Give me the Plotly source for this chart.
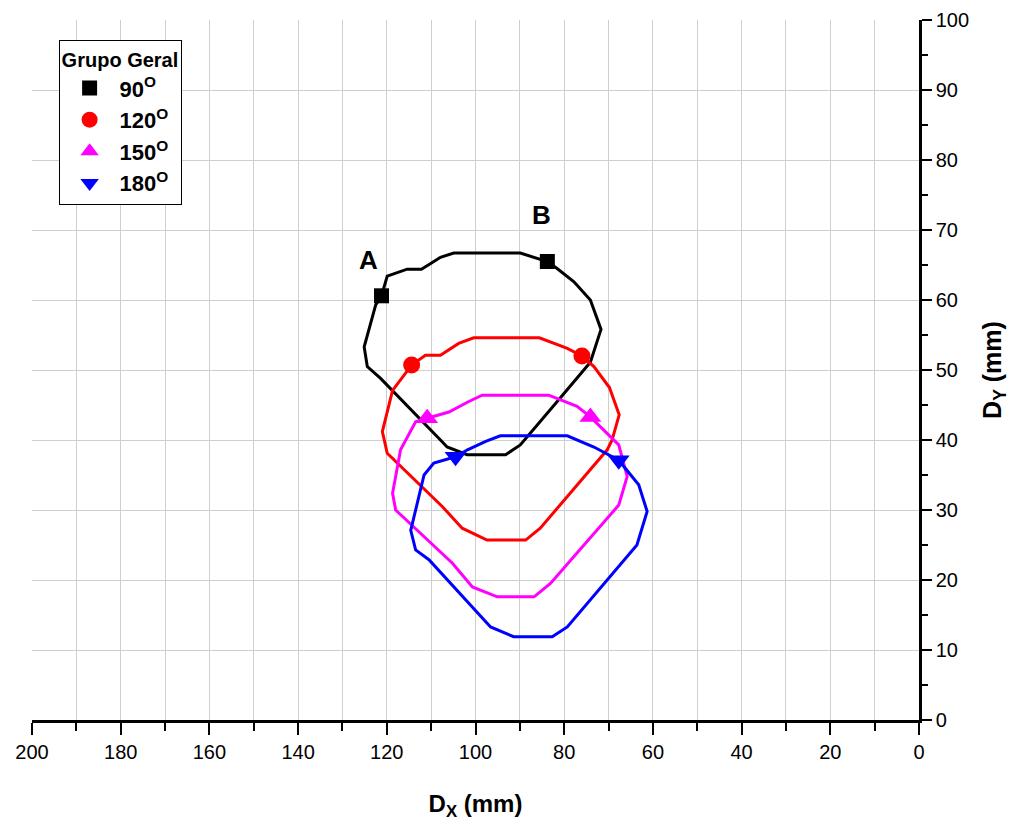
import plotly.graph_objects as go

# 90 degrees path
x90 = [121.2, 119.9, 115.4, 112.2, 110.1, 107.9, 104.9, 89.9, 83.8, 81.6, 77.8, 74.1, 71.7, 74.1,
       80.9, 89.9, 93.2, 101.9, 106.4, 107.9, 121.4, 124.4, 125.1, 122.5, 121.2]
y90 = [60.6, 63.4, 64.4, 64.4, 65.2, 66.1, 66.7, 66.7, 65.5, 64.5, 62.6, 60.0, 55.8, 51.1,
       46.0, 39.3, 37.9, 37.9, 39.0, 40.0, 48.8, 50.5, 53.3, 59.3, 60.6]
mx90 = [121.2, 83.8]
my90 = [60.6, 65.5]

# 120 degrees path
x120 = [114.4, 111.3, 107.9, 103.8, 100.4, 85.6, 79.3, 76.0, 73.3, 69.8, 67.6, 69.2, 70.3, 85.4,
        88.7, 97.4, 103.0, 107.5, 119.9, 121.0, 118.7, 114.4]
y120 = [50.7, 52.1, 52.1, 53.8, 54.6, 54.6, 53.1, 52.0, 50.5, 47.5, 43.6, 40.0, 38.6, 27.4,
        25.7, 25.7, 27.4, 30.5, 38.1, 41.2, 47.1, 50.7]
mx120 = [114.4, 76.0]
my120 = [50.7, 52.0]

# 150 degrees path
x150 = [110.9, 106.0, 101.5, 98.5, 83.5, 77.1, 74.1, 67.7, 65.8, 67.7, 83.1, 86.8, 95.1, 100.7,
        105.2, 118.0, 118.7, 116.9, 113.5, 110.9]
y150 = [43.1, 44.0, 45.5, 46.4, 46.4, 44.8, 43.3, 39.3, 34.8, 30.7, 19.5, 17.6, 17.6, 19.0,
        22.4, 30.0, 32.4, 38.6, 42.6, 43.1]
mx150 = [110.9, 74.1]
my150 = [43.1, 43.3]

# 180 degrees path
x180 = [104.5, 109.4, 111.6, 114.6, 113.5, 110.5, 96.6, 91.4, 82.7, 79.3, 63.6, 61.3, 63.2, 67.7,
        73.3, 79.3, 94.4, 97.7, 101.8, 104.5]
y180 = [37.6, 36.7, 35.0, 27.1, 24.3, 22.9, 13.3, 11.9, 11.9, 13.3, 25.0, 29.8, 33.6, 37.1,
        39.0, 40.6, 40.6, 39.8, 38.6, 37.6]
mx180 = [104.5, 67.7]
my180 = [37.6, 37.1]

series = [
    ("<b>90<sup>O</sup></b>", x90, y90, mx90, my90, "black", "square", 15),
    ("<b>120<sup>O</sup></b>", x120, y120, mx120, my120, "red", "circle", 17),
    ("<b>150<sup>O</sup></b>", x150, y150, mx150, my150, "magenta", "triangle-up", 19),
    ("<b>180<sup>O</sup></b>", x180, y180, mx180, my180, "blue", "triangle-down", 19),
]

fig = go.Figure()
for name, xs, ys, mxs, mys, col, sym, sz in series:
    fig.add_trace(go.Scatter(x=xs, y=ys, mode="lines", line=dict(color=col, width=3),
                             showlegend=False, hoverinfo="skip"))
for name, xs, ys, mxs, mys, col, sym, sz in series:
    fig.add_trace(go.Scatter(x=mxs, y=mys, mode="markers", name=name,
                             marker=dict(color=col, symbol=sym, size=sz, line=dict(width=0))))

fig.add_annotation(x=124.1, y=65.7, text="<b>A</b>", showarrow=False,
                   font=dict(size=26, color="black", family="Liberation Sans"))
fig.add_annotation(x=85.1, y=72.1, text="<b>B</b>", showarrow=False,
                   font=dict(size=26, color="black", family="Liberation Sans"))

fig.update_layout(
    width=1016, height=832,
    margin=dict(l=24, r=105, t=12, b=120),
    paper_bgcolor="white", plot_bgcolor="white",
    font=dict(family="Liberation Sans", color="black"),
    legend=dict(
        x=0.030, y=0.971, xanchor="left", yanchor="top",
        bordercolor="black", borderwidth=1, bgcolor="white",
        title=dict(text="<b>Grupo Geral</b>", font=dict(size=20, family="Liberation Sans")),
        font=dict(size=22, family="Liberation Sans"),
        tracegroupgap=0, itemwidth=50,
    ),
    xaxis=dict(
        range=[200, 0], autorange=False, automargin=False,
        tickmode="array", tickvals=list(range(0, 201, 20)),
        ticks="outside", ticklen=12, tickwidth=1.5, tickcolor="black",
        minor=dict(tickvals=list(range(10, 200, 20)), ticks="outside", ticklen=8,
                   tickcolor="black", showgrid=True, gridcolor="#cfcfcf", gridwidth=1),
        showgrid=True, gridcolor="#cfcfcf", gridwidth=1,
        showline=True, linecolor="black", linewidth=2.5,
        zeroline=False,
        tickfont=dict(size=20, family="Liberation Sans Narrow, Liberation Sans"),
        title=dict(text="<b>D<sub>X</sub> (mm)</b>", font=dict(size=24), standoff=34),
    ),
    yaxis=dict(
        range=[0, 100], autorange=False, side="right", automargin=False,
        tickmode="array", tickvals=list(range(0, 101, 10)),
        ticks="outside", ticklen=10, tickwidth=1.5, tickcolor="black",
        minor=dict(tickvals=list(range(5, 100, 10)), ticks="outside", ticklen=6,
                   tickcolor="black", showgrid=False),
        showgrid=True, gridcolor="#cfcfcf", gridwidth=1,
        showline=True, linecolor="black", linewidth=2.5,
        zeroline=False,
        tickfont=dict(size=20),
        title=dict(text="<b>D<sub>Y</sub> (mm)</b>", font=dict(size=25), standoff=16),
    ),
)

fig.write_html("out.html")
